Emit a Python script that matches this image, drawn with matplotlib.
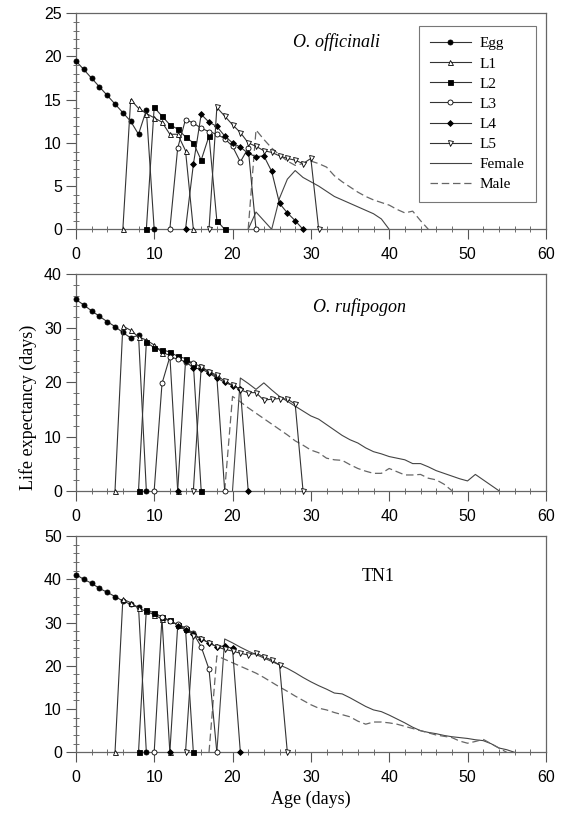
import matplotlib
matplotlib.use('Agg')
import matplotlib.pyplot as plt
import numpy as np
from matplotlib.ticker import MultipleLocator

plt.rcParams['font.family'] = ['Liberation Sans', 'DejaVu Sans']

# ---- data: O. officinali ----
egg1_x = list(range(0, 11))
egg1 = [19.5, 18.5, 17.5, 16.5, 15.5, 14.5, 13.5, 12.5, 11.0, 13.8, 0]
l1_1_x = list(range(6, 16))
l1_1 = [0, 15.0, 14.0, 13.4, 12.9, 12.4, 11.0, 11.0, 9.1, 0]
l2_1_x = list(range(9, 20))
l2_1 = [0, 14.1, 13.1, 12.1, 11.6, 10.7, 10.0, 8.0, 10.8, 1.0, 0]
l3_1_x = list(range(12, 24))
l3_1 = [0, 9.4, 12.7, 12.3, 11.7, 11.3, 11.0, 10.5, 9.6, 7.8, 9.4, 0]
l4_1_x = list(range(14, 30))
l4_1 = [0, 7.5, 13.3, 12.4, 11.9, 10.8, 10.0, 9.5, 8.8, 8.4, 8.5, 6.7, 3.0, 1.9, 1.0, 0]
l5_1_x = list(range(17, 32))
l5_1 = [0, 14.1, 13.1, 12.1, 11.2, 10.0, 9.6, 9.1, 8.9, 8.5, 8.2, 8.0, 7.6, 8.2, 0]
fem1_x = list(range(22, 41))
fem1 = [0, 2.0, 1.0, 0, 3.6, 5.8, 6.8, 6.0, 5.5, 5.0, 4.4, 3.8, 3.4, 3.0, 2.6, 2.2, 1.8, 1.2, 0]
male1_x = list(range(22, 46))
male1 = [0, 11.5, 10.4, 9.4, 8.6, 7.9, 7.4, 7.6, 7.9, 7.6, 7.2, 6.2, 5.5, 4.9, 4.3, 3.8,
         3.4, 3.1, 2.8, 2.3, 1.9, 2.1, 1.0, 0]

# ---- data: O. rufipogon ----
egg2_x = list(range(0, 10))
egg2 = [35.3, 34.3, 33.2, 32.2, 31.2, 30.3, 29.2, 28.2, 28.7, 0]
l1_2_x = list(range(5, 14))
l1_2 = [0, 30.4, 29.6, 28.4, 27.8, 26.9, 25.5, 25.0, 0]
l2_2_x = list(range(8, 17))
l2_2 = [0, 27.4, 26.4, 26.0, 25.6, 24.8, 24.4, 23.4, 0]
l3_2_x = list(range(10, 20))
l3_2 = [0, 19.8, 24.7, 24.3, 23.8, 23.5, 22.9, 21.9, 21.0, 0]
l4_2_x = list(range(13, 23))
l4_2 = [0, 23.9, 22.6, 22.5, 21.7, 20.8, 20.0, 19.4, 18.8, 0]
l5_2_x = list(range(15, 30))
l5_2 = [0, 22.8, 22.0, 21.3, 20.2, 19.5, 18.6, 18.1, 18.1, 16.7, 16.9, 17.0, 16.9, 16.0, 0]
fem2_x = list(range(20, 55))
fem2 = [0, 20.8, 19.8, 18.7, 19.9, 18.6, 17.4, 16.5, 15.6, 14.7, 13.8, 13.2, 12.2, 11.2,
        10.2, 9.4, 8.8, 7.9, 7.2, 6.8, 6.3, 6.0, 5.7, 5.0, 5.0, 4.4, 3.7, 3.2, 2.7, 2.2,
        1.8, 3.0, 2.0, 1.0, 0]
male2_x = list(range(19, 49))
male2 = [0, 17.4, 16.4, 15.3, 14.3, 13.3, 12.3, 11.3, 10.3, 9.2, 8.4, 7.5, 7.0, 6.0, 5.7,
         5.6, 4.8, 4.1, 3.6, 3.2, 3.2, 4.1, 3.5, 2.9, 2.9, 3.0, 2.3, 2.0, 1.2, 0]

# ---- data: TN1 ----
egg3_x = list(range(0, 10))
egg3 = [41.1, 40.0, 39.1, 37.9, 37.0, 36.0, 35.0, 34.2, 33.6, 0]
l1_3_x = list(range(5, 13))
l1_3 = [0, 35.4, 34.6, 33.3, 32.6, 31.8, 30.8, 0]
l2_3_x = list(range(8, 16))
l2_3 = [0, 33.0, 32.2, 31.3, 30.5, 29.4, 28.5, 0]
l3_3_x = list(range(10, 19))
l3_3 = [0, 31.2, 30.3, 29.6, 28.8, 27.5, 24.4, 19.2, 0]
l4_3_x = list(range(12, 22))
l4_3 = [0, 29.2, 28.3, 27.3, 26.3, 25.3, 24.4, 24.6, 24.0, 0]
l5_3_x = list(range(14, 28))
l5_3 = [0, 27.0, 26.2, 25.3, 24.4, 23.8, 23.4, 22.9, 22.5, 22.9, 22.1, 21.3, 20.2, 0]
fem3_x = list(range(18, 57))
fem3 = [0, 26.2, 25.3, 24.3, 23.4, 22.6, 21.8, 21.0, 20.2, 19.4, 18.4, 17.3, 16.3, 15.4,
        14.6, 13.7, 13.5, 12.6, 11.6, 10.6, 9.8, 9.4, 8.6, 7.7, 6.8, 5.8, 5.0, 4.6, 4.3,
        3.9, 3.6, 3.4, 3.2, 2.9, 2.7, 2.0, 1.0, 0.6, 0]
male3_x = list(range(17, 56))
male3 = [0, 22.3, 21.5, 20.7, 19.9, 19.1, 18.3, 17.3, 16.2, 15.1, 14.1, 13.0, 12.0, 11.0,
         10.2, 9.8, 9.2, 8.7, 8.2, 7.2, 6.5, 7.0, 7.0, 6.8, 6.5, 6.0, 5.5, 5.0, 4.5, 4.0,
         3.7, 3.4, 2.6, 2.1, 2.5, 3.0, 2.0, 1.0, 0]

stage_names = ['Egg', 'L1', 'L2', 'L3', 'L4', 'L5']
panels = [
    {'title': 'O. officinali', 'italic': True, 'ymax': 25, 'major': 5, 'minor': 1,
     'pos': (0.7183, 0.2654), 'tpos': (0.462, 0.869),
     'stages': [(egg1_x, egg1), (l1_1_x, l1_1), (l2_1_x, l2_1), (l3_1_x, l3_1),
                (l4_1_x, l4_1), (l5_1_x, l5_1)],
     'female': (fem1_x, fem1), 'male': (male1_x, male1)},
    {'title': 'O. rufipogon', 'italic': True, 'ymax': 40, 'major': 10, 'minor': 2,
     'pos': (0.3972, 0.2662), 'tpos': (0.505, 0.849),
     'stages': [(egg2_x, egg2), (l1_2_x, l1_2), (l2_2_x, l2_2), (l3_2_x, l3_2),
                (l4_2_x, l4_2), (l5_2_x, l5_2)],
     'female': (fem2_x, fem2), 'male': (male2_x, male2)},
    {'title': 'TN1', 'italic': False, 'ymax': 50, 'major': 10, 'minor': 2,
     'pos': (0.0758, 0.2657), 'tpos': (0.608, 0.812),
     'stages': [(egg3_x, egg3), (l1_3_x, l1_3), (l2_3_x, l2_3), (l3_3_x, l3_3),
                (l4_3_x, l4_3), (l5_3_x, l5_3)],
     'female': (fem3_x, fem3), 'male': (male3_x, male3)},
]

marker_styles = [('o', 'black'), ('^', 'white'), ('s', 'black'),
                 ('o', 'white'), ('D', 'black'), ('v', 'white')]
line_col = '#333333'
serif = 'Liberation Serif'

fig = plt.figure(figsize=(5.66, 8.14), dpi=100)

for i, p in enumerate(panels):
    ax = fig.add_axes([0.134, p['pos'][0], 0.8304, p['pos'][1]])
    for (xs, ys), name, (mk, fc) in zip(p['stages'], stage_names, marker_styles):
        ms = 3.0 if mk == 'D' else 3.6
        ax.plot(xs, ys, color=line_col, lw=0.8, marker=mk, ms=ms,
                markerfacecolor=fc, markeredgecolor='black', markeredgewidth=0.6,
                label=name, clip_on=False, zorder=3)
    ax.plot(*p['female'], color='#444444', lw=0.8, label='Female', zorder=2)
    ax.plot(*p['male'], color='#666666', lw=0.9, ls=(0, (6, 3)), label='Male', zorder=2)

    ax.set_xlim(0, 60)
    ax.set_ylim(0, p['ymax'])
    ax.xaxis.set_major_locator(MultipleLocator(10))
    ax.xaxis.set_minor_locator(MultipleLocator(2))
    ax.yaxis.set_major_locator(MultipleLocator(p['major']))
    ax.yaxis.set_minor_locator(MultipleLocator(p['minor']))
    ax.tick_params(which='major', direction='out', length=7, width=0.8, color='#555555',
                   labelsize=11.5, pad=3)
    ax.tick_params(axis='x', which='major', pad=6)
    ax.tick_params(which='minor', direction='inout', length=5, width=0.6, color='#555555')
    for s in ax.spines.values():
        s.set_color('#666666')
        s.set_linewidth(0.9)

    ax.text(p['tpos'][0], p['tpos'][1], p['title'], transform=ax.transAxes,
            fontsize=13, family=serif, style='italic' if p['italic'] else 'normal',
            va='center', ha='left')

    if i == 0:
        leg = ax.legend(loc='upper right', bbox_to_anchor=(0.978, 0.941), borderaxespad=0,
                        fancybox=False, framealpha=1, edgecolor='#777777',
                        prop={'family': serif, 'size': 11}, handlelength=2.7,
                        handletextpad=0.6, labelspacing=0.42, borderpad=0.7)
        leg.get_frame().set_linewidth(0.8)
    if i == 2:
        ax.set_xlabel('Age (days)', fontsize=13, family=serif, labelpad=4)

fig.text(0.05, 0.5, 'Life expectancy (days)', rotation=90, fontsize=13, family=serif,
         va='center', ha='center')

plt.savefig('out.png', dpi=100)
